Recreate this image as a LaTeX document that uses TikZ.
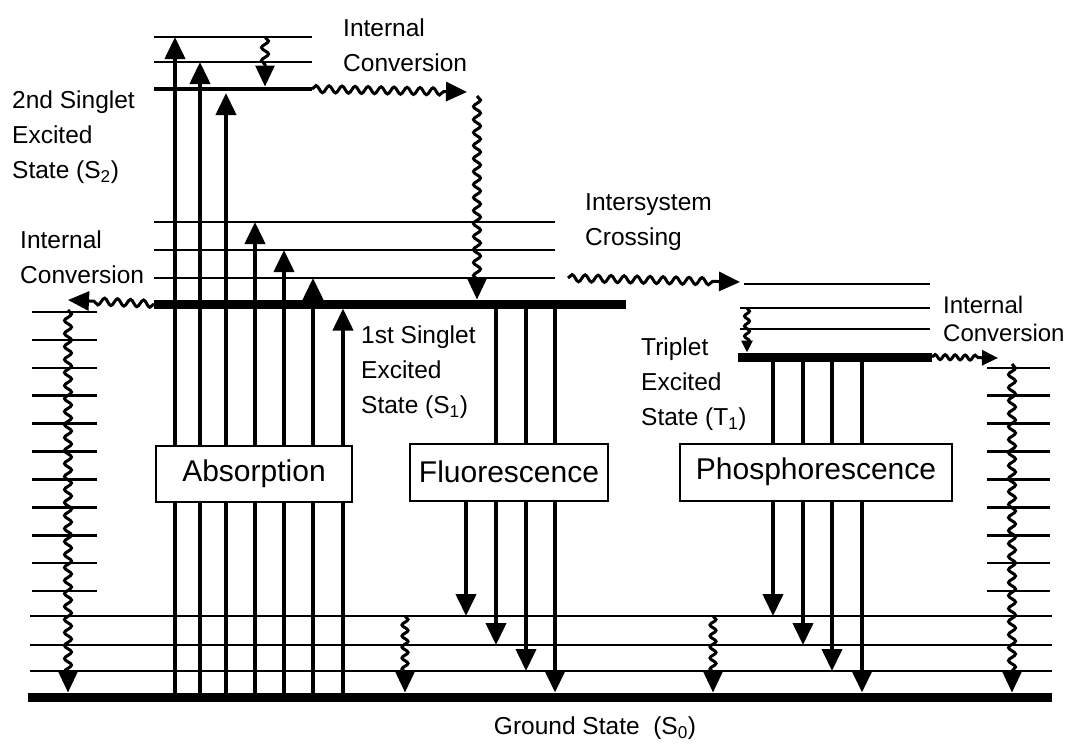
\documentclass[tikz,border=0pt]{standalone}
\usepackage{fontspec}
\setmainfont{Liberation Sans}
\usetikzlibrary{arrows.meta, positioning, calc, decorations.pathmorphing}

\begin{document}
\begin{tikzpicture}[x=1pt, y=-1pt,
    vib/.style={line width=2.6pt},
    elec/.style={line width=9pt},
    trans/.style={line width=4pt, -{Triangle[length=22pt, width=20pt]}},
    wavy/.style={line width=3pt, -{Triangle[length=21pt, width=19pt]}, decorate,
        decoration={snake, amplitude=3.5pt, segment length=13pt, post length=21pt}},
    small wavy/.style={wavy, -{Triangle[length=12pt, width=11pt]},
        decoration={snake, amplitude=2.5pt, segment length=10pt, post length=12pt}},
    lbl/.style={anchor=west, align=left, inner sep=0pt, font=\fontsize{24.5}{35}\selectfont},
    box/.style={draw, fill=white, line width=2pt, inner sep=0pt, font=\fontsize{30}{34}\selectfont}]
    \useasboundingbox (0,0) rectangle (1069,744);

    % energy levels (y only)
    \coordinate (S2v2) at (0,37);  \coordinate (S2v1) at (0,62);  \coordinate (S2) at (0,89);
    \coordinate (S1v3) at (0,222); \coordinate (S1v2) at (0,250); \coordinate (S1v1) at (0,278);
    \coordinate (S1) at (0,304);
    \coordinate (T1v2) at (0,308); \coordinate (T1) at (0,357);
    \coordinate (G3) at (0,616);   \coordinate (G2) at (0,645);   \coordinate (G1) at (0,671);
    \coordinate (G) at (0,697);

    % S2
    \draw[vib] (154,37) -- (312,37) (154,62) -- (312,62);
    \draw[line width=4.5pt] (154,89) -- (312,89);
    % S1
    \foreach \y in {222,250,278} \draw[vib] (154,\y) -- (555,\y);
    \draw[elec] (154,304) -- (626,304);
    % T1
    \draw[vib] (744,284) -- (930,284);
    \foreach \y in {308,329} \draw[vib] (740,\y) -- (930,\y);
    \draw[elec] (738,357) -- (932,357);
    % side ladders
    \foreach \k in {0,...,10} \draw[vib] (32,{312+27.9*\k}) -- (97,{312+27.9*\k});
    \foreach \k in {2,...,10} \draw[vib] (987,{312+27.9*\k}) -- (1050,{312+27.9*\k});
    % S0
    \foreach \y in {616,645,671} \draw[vib] (30,\y) -- (1052,\y);
    \draw[elec] (28,697) -- (1052,697);

    % absorption
    \foreach \x/\lv/\s in {175/S2v2/0pt, 200/S2v1/0pt, 226/S2/4pt, 255/S1v3/0pt,
                            284/S1v2/0pt, 313/S1v1/0pt, 343/S1/4.5pt}
        \draw[trans, shorten >=\s] (\x,0 |- G) -- (\x,0 |- \lv);
    % fluorescence
    \foreach \x/\lv/\s in {496/G2/0pt, 526/G1/0pt, 555/G/4.5pt}
        \draw[trans, shorten >=\s] (\x,0 |- S1) -- (\x,0 |- \lv);
    % phosphorescence
    \foreach \x/\lv/\s in {773/G3/0pt, 803/G2/0pt, 832/G1/0pt, 862/G/4.5pt}
        \draw[trans, shorten >=\s] (\x,0 |- T1) -- (\x,0 |- \lv);

    \node[box, minimum width=196pt, minimum height=56pt] (abs) at (254,474) {Absorption};
    \node[box, minimum width=198pt, minimum height=57pt] (flu) at (509,472) {Fluorescence};
    \node[box, minimum width=272pt, minimum height=57pt] (pho) at (816,472) {Phosphorescence};
    \draw[trans] (flu.south -| 466,0) -- (466,0 |- G3);

    % radiationless steps
    \coordinate (ic1) at (467,92);
    \coordinate (ic2) at (68,300);
    \coordinate (ic3) at (998,358);
    \coordinate (isc) at (740,282);
    \draw[wavy, shorten >=2.5pt] (265,0 |- S2v2) -- (265,0 |- S2);
    \draw[wavy] (312,0 |- S2) -- (ic1);
    \draw[wavy, shorten >=4.5pt] (477,96) -- (477,0 |- S1);
    \draw[wavy] (154,0 |- S1) -- (ic2);
    \draw[wavy, shorten >=4.5pt] (68,310) -- (68,0 |- G);
    \draw[wavy] (568,278) -- (isc);
    \draw[small wavy, shorten >=4.5pt] (747,0 |- T1v2) -- (747,0 |- T1);
    \draw[wavy, -{Triangle[length=16pt, width=15pt]},
        decoration={snake, amplitude=2.5pt, segment length=10pt, post length=16pt}]
        (932,0 |- T1) -- (ic3);
    \draw[wavy, shorten >=4.5pt] (1012,364) -- (1012,0 |- G);
    \foreach \x in {405,713}
        \draw[wavy, shorten >=4.5pt, decoration={snake, amplitude=3pt, segment length=11pt, post length=21pt}]
            (\x,0 |- G3) -- (\x,0 |- G);

    % labels
    \node[lbl] (icTop) at (343,45) {Internal\\Conversion};
    \node[lbl] (s2lbl) at (12,137) {2nd Singlet\\Excited\\State (S\textsubscript{2})};
    \node[lbl] (icLeft) at (20,257) {Internal\\Conversion};
    \node[lbl] (isclbl) at (585,222) {Intersystem\\Crossing};
    \node[lbl] (s1lbl) at (361,372) {1st Singlet\\Excited\\State (S\textsubscript{1})};
    \node[lbl] (t1lbl) at (641,384) {Triplet\\Excited\\State (T\textsubscript{1})};
    \node[lbl, font=\fontsize{24}{28}\selectfont] (icRight) at (943,319) {Internal\\Conversion};
    \node[font=\fontsize{24.5}{35}\selectfont] (s0lbl) at (595,728) {Ground State\ \ (S\textsubscript{0})};
\end{tikzpicture}
\end{document}
